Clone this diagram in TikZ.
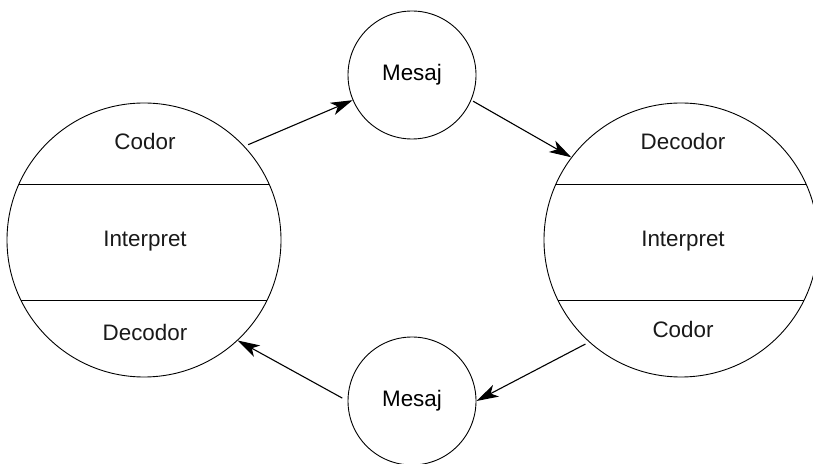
\documentclass[tikz,border=0pt]{standalone}
\usepackage{fontspec}
\setmainfont{Liberation Sans}
\usetikzlibrary{arrows.meta}
\begin{document}
\begin{tikzpicture}[x=0.5pt,y=-0.5pt,
  big/.style={circle,draw,line width=0.45pt,minimum size=137pt,inner sep=0pt},
  msg/.style={circle,draw,line width=0.45pt,minimum size=64pt,inner sep=0pt,font=\fontsize{11.2}{13}\selectfont},
  lbl/.style={inner sep=0pt,font=\fontsize{11.2}{13}\selectfont,text=black!90},
  chord/.style={line width=0.45pt},
  flow/.style={line width=0.55pt,-{Stealth[length=11pt,width=6.5pt,inset=3pt]}}]
\useasboundingbox (0,0) rectangle (813,464);
\clip (0,0) rectangle (813,464);
\node[big] (L) at (144,240) {};
\node[big] (R) at (681,240) {};
\node[msg] (M1) at (412,75) {Mesaj};
\node[msg] (M2) at (412,401) {Mesaj};
% chords
\draw[chord] ([shift={(-125,-56)}]L.center) -- ([shift={(125,-56)}]L.center);
\draw[chord] ([shift={(-123,60)}]L.center) -- ([shift={(123,60)}]L.center);
\draw[chord] ([shift={(-125,-56)}]R.center) -- ([shift={(125,-56)}]R.center);
\draw[chord] ([shift={(-123,60)}]R.center) -- ([shift={(123,60)}]R.center);
% labels
\node[lbl] (l1) at (145,141) {Codor};
\node[lbl] (l2) at (145,241) {Interpret};
\node[lbl] (l3) at (145,332) {Decodor};
\node[lbl] (r1) at (683,141) {Decodor};
\node[lbl] (r2) at (683,241) {Interpret};
\node[lbl] (r3) at (683,329) {Codor};
% arrows
\draw[flow,shorten <=2pt] (L.43) -- (M1.203);
\draw[flow,shorten <=1pt] (M1.337) -- (R.143);
\draw[flow,shorten <=2pt] (R.228) -- (M2.0);
\draw[flow,shorten <=3pt] (M2.180) -- (L.313);
\end{tikzpicture}
\end{document}
